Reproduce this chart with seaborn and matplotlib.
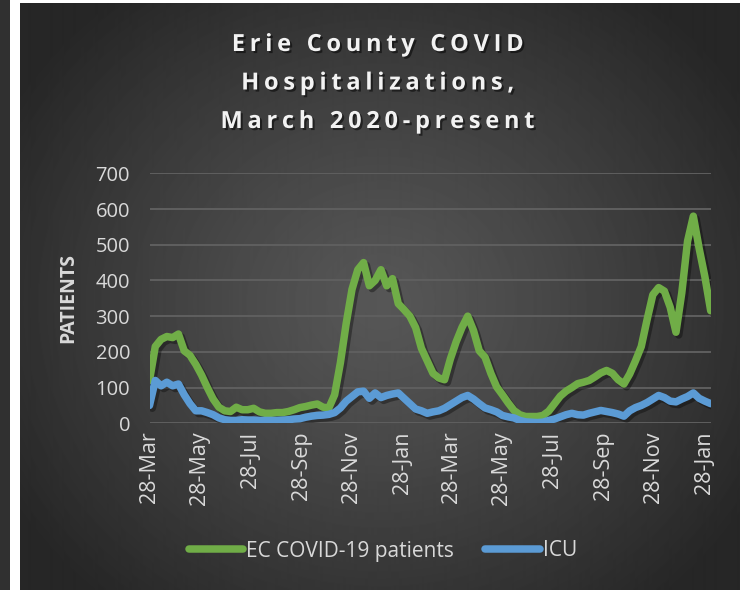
import numpy as np
import pandas as pd
import matplotlib
matplotlib.use("Agg")
import matplotlib.pyplot as plt
import matplotlib.patheffects as pe
from matplotlib.lines import Line2D
from matplotlib.patches import Rectangle
import seaborn as sns

# weekly readings, starting 28 Mar 2020
start_date = "2020-03-28"
ec_patients = [
    120, 215, 235, 243, 240, 250, 203, 190, 165, 135,
    100, 68, 45, 35, 33, 45, 38, 38, 42, 32,
    28, 28, 30, 30, 33, 38, 44, 47, 51, 54,
    45, 43, 80, 170, 280, 375, 430, 450, 385, 400,
    430, 385, 405, 335, 318, 300, 268, 210, 175, 140,
    127, 122, 180, 228, 268, 300, 260, 203, 185, 140,
    102, 80, 57, 36, 24, 19, 19, 19, 22, 34,
    55, 76, 90, 100, 111, 115, 120, 130, 141, 148,
    140, 122, 110, 138, 175, 215, 290, 360, 380, 370,
    325, 255, 365, 510, 580, 490, 410, 315,
]
icu = [
    50, 120, 105, 115, 105, 110, 80, 55, 35, 35,
    30, 24, 15, 10, 8, 8, 10, 9, 9, 8,
    8, 8, 8, 9, 10, 12, 13, 17, 20, 22,
    23, 25, 30, 43, 62, 75, 88, 90, 70, 85,
    72, 78, 82, 85, 70, 55, 40, 35, 28, 32,
    35, 42, 52, 62, 72, 78, 68, 55, 43, 38,
    32, 22, 18, 15, 8, 4, 3, 2, 3, 8,
    12, 18, 24, 28, 24, 23, 28, 32, 36, 33,
    30, 26, 20, 35, 44, 50, 58, 68, 78, 72,
    62, 60, 68, 75, 85, 70, 62, 55,
]
tick_dates = ["2020-03-28", "2020-05-28", "2020-07-28", "2020-09-28",
              "2020-11-28", "2021-01-28", "2021-03-28", "2021-05-28",
              "2021-07-28", "2021-09-28", "2021-11-28", "2022-01-28"]
series_names = ["EC COVID-19 patients", "ICU"]
series_colors = ["#70AD47", "#5B9BD5"]

dates = pd.date_range(start_date, periods=len(ec_patients), freq="7D")
df = pd.concat([
    pd.DataFrame({"date": dates, "patients": ec_patients, "series": series_names[0]}),
    pd.DataFrame({"date": dates, "patients": icu, "series": series_names[1]}),
])

sns.set_theme(style="white")
plt.rcParams["font.family"] = ["Open Sans", "DejaVu Sans"]

W, H = 741, 590
fig = plt.figure(figsize=(W / 100, H / 100), dpi=100, facecolor="white")

# left strip of neighbouring chart
fig.patches.append(Rectangle((0, 0), 10 / W, 1, transform=fig.transFigure,
                             facecolor="#303030", edgecolor="none", zorder=0))

# radial gradient panel
bg = fig.add_axes([20 / W, 0, 719 / W, 587 / H])
bg.set_axis_off()
yy, xx = np.mgrid[0:587, 0:719]
r = np.hypot(xx - 360, (yy - 300) * 1.1)
t = np.clip(r / 430, 0, 1) ** 1.2
c_center, c_edge = 0.34, 0.15
img = c_center + (c_edge - c_center) * t
bg.imshow(img, cmap="gray", vmin=0, vmax=1, aspect="auto", interpolation="bilinear")

ax = fig.add_axes([149.5 / W, 1 - 423.3 / H, (710.7 - 149.5) / W, 250 / H])
ax.set_facecolor("none")
sns.lineplot(data=df, x="date", y="patients", hue="series",
             palette=dict(zip(series_names, series_colors)),
             linewidth=5.4, legend=False, ax=ax)
for ln in ax.lines:
    ln.set_solid_capstyle("round")
    ln.set_solid_joinstyle("round")
    ln.set_path_effects([pe.SimpleLineShadow(offset=(2, -2), shadow_color="black", alpha=0.35),
                         pe.Normal()])

ax.set_ylim(0, 700)
ax.set_yticks(range(0, 701, 100))
ax.set_xlim(dates[0], dates[-1])
ax.set_xticks(pd.to_datetime(tick_dates))
ax.set_xticklabels([pd.Timestamp(d).strftime("%d-%b") for d in tick_dates], rotation=90)
ax.grid(axis="y", color="#5f5f5f", linewidth=1.4)
ax.grid(axis="x", visible=False)
ax.set_axisbelow(True)
for s in ax.spines.values():
    s.set_visible(False)
ax.tick_params(axis="both", length=0, labelcolor="#d9d9d9")
ax.tick_params(axis="y", pad=14, labelsize=14.5)
ax.tick_params(axis="x", pad=6, labelsize=15.5)
ax.set_xlabel("")
ax.set_ylabel("")

fig.text(68 / W, 1 - 298 / H, "PATIENTS", rotation=90, ha="center", va="center",
         color="#d9d9d9", fontsize=14, fontweight="bold")

spacer = "\u200a\u200a"
title_lines = ["Erie County COVID", "Hospitalizations,", "March 2020-present"]
for i, line in enumerate(title_lines):
    fig.text(378 / W, 1 - (45 + 38.5 * i) / H, spacer.join(line), ha="center", va="center",
             color="#f2f2f2", fontsize=17, fontweight="bold",
             path_effects=[pe.withSimplePatchShadow(offset=(1.5, -1.5), shadow_rgbFace="black", alpha=0.5)])

handles = [Line2D([0], [0], color=c, linewidth=5.4, solid_capstyle="round") for c in series_colors]
leg = fig.legend(handles, series_names, loc="center", bbox_to_anchor=(383 / W, 1 - 551 / H),
                 ncol=2, frameon=False, fontsize=15, handlelength=2.6, handletextpad=0.15,
                 columnspacing=1.5)
for txt in leg.get_texts():
    txt.set_color("#d9d9d9")

fig.savefig("out.png", dpi=100, facecolor="white")
